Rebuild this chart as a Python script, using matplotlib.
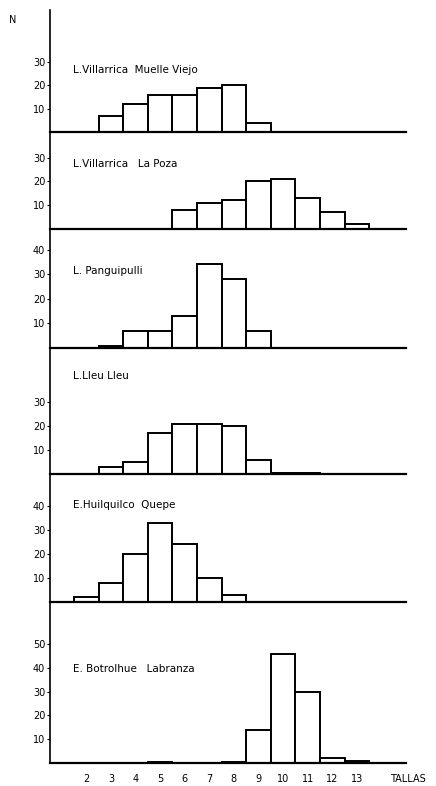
import numpy as np
import matplotlib
matplotlib.use("Agg")
import matplotlib.pyplot as plt

# size classes (tallas)
classes = [2, 3, 4, 5, 6, 7, 8, 9, 10, 11, 12, 13]

# N per size class, one list per site
muelle_viejo = [0, 7, 12, 16, 16, 19, 20, 4, 0, 0, 0, 0]
la_poza = [0, 0, 0, 0, 8, 11, 12, 20, 21, 13, 7, 2]
panguipulli = [0, 1, 7, 7, 13, 34, 28, 7, 0, 0, 0, 0]
lleu_lleu = [0, 3, 5, 17, 21, 21, 20, 6, 0.5, 0.5, 0, 0]
huilquilco = [2, 8, 20, 33, 24, 10, 3, 0, 0, 0, 0, 0]
botrolhue = [0, 0, 0, 0.5, 0, 0, 0.5, 14, 46, 30, 2, 1]

sites = ["L.Villarrica  Muelle Viejo", "L.Villarrica   La Poza", "L. Panguipulli",
         "L.Lleu Lleu", "E.Huilquilco  Quepe", "E. Botrolhue   Labranza"]
series = [muelle_viejo, la_poza, panguipulli, lleu_lleu, huilquilco, botrolhue]
yticks = [[10, 20, 30], [10, 20, 30], [10, 20, 30, 40],
          [10, 20, 30], [10, 20, 30, 40], [10, 20, 30, 40, 50]]

# layout in pixels (figure 436 x 786)
W, H = 436, 786
x0, x1 = 50, 406
bounds = [10, 132, 229, 348, 474, 602, 763]   # panel tops / baselines
px_per_unit = [2.34, 2.38, 2.46, 2.39, 2.40, 2.38]
label_y = [70, 164, 271, 376, 505, 669]

fig = plt.figure(figsize=(W / 100, H / 100), dpi=100)

for i in range(6):
    top, bot = bounds[i], bounds[i + 1]
    ax = fig.add_axes([x0 / W, 1 - bot / H, (x1 - x0) / W, (bot - top) / H])
    ax.patch.set_alpha(0)
    vals = np.array(series[i], dtype=float)
    cl = np.array(classes)
    m = vals > 0
    ax.bar(cl[m], vals[m], width=1.0, color="white", edgecolor="black",
           linewidth=1.4, zorder=2)
    ax.set_xlim(0.52, 15.0)
    ax.set_ylim(0, (bot - top) / px_per_unit[i])
    for s in ["top", "right"]:
        ax.spines[s].set_visible(False)
    ax.spines["left"].set_linewidth(1.2)
    ax.spines["bottom"].set_linewidth(1.6)
    ax.spines["bottom"].set_zorder(3)
    ax.set_yticks(yticks[i])
    ax.tick_params(axis="y", direction="out", length=2.5, width=0.8,
                   labelsize=7, pad=1)
    if i < 5:
        ax.set_xticks([])
    else:
        ax.set_xticks(classes)
        ax.set_xticklabels([str(c) for c in classes])
        ax.tick_params(axis="x", length=0, labelsize=7, pad=8)
    fig.text(73 / W, 1 - label_y[i] / H, sites[i], fontsize=7.5,
             ha="left", va="center")

fig.text(13 / W, 1 - 20 / H, "N", fontsize=7, ha="center", va="center")
fig.text(390 / W, 1 - 779 / H, "TALLAS", fontsize=7, ha="left", va="center")

fig.savefig("out.png", dpi=100)
